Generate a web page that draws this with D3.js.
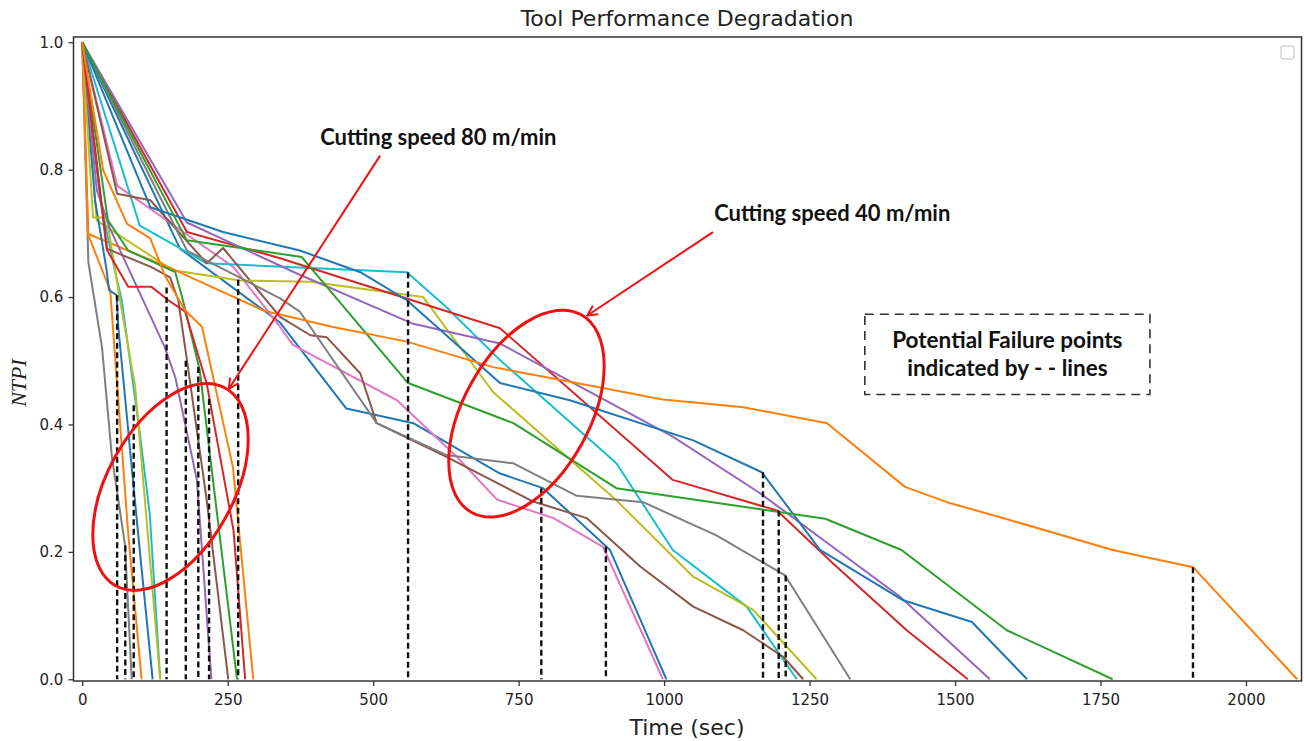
<!DOCTYPE html>
<html>
<head>
<meta charset="utf-8">
<script src="https://cdn.jsdelivr.net/npm/d3@7/dist/d3.min.js"></script>
<style>
  body { margin: 0; background: #fff; }
  svg { display: block; }
</style>
</head>
<body>
<svg id="chart" width="1304" height="741"></svg>
<script>
// ---- NTPI curves, each point is [time (s), NTPI] ----
// cutting speed 80 m/min
const s80Gray   = [[0,1],[10.5,0.655],[34,0.521],[51,0.349],[73.5,0.211],[85,0]];
const s80Orange = [[0,1],[10,0.698],[48,0.611],[79,0.229],[102,0]];
const s80Blue   = [[0,1],[22,0.752],[42,0.642],[46,0.611],[59,0.603],[62,0.553],[96,0.229],[121,0]];
const s80Cyan   = [[0,1],[31,0.752],[56,0.642],[68,0.595],[99,0.386],[116,0.260],[134,0]];
const s80Olive  = [[0,1],[18.6,0.725],[42,0.725],[65,0.595],[91,0.459],[134,0]];
const s80Purple = [[0,1],[25,0.768],[48,0.707],[142,0.521],[160,0.474],[197,0.313],[222,0]];
const s80Brown  = [[0,1],[42,0.676],[119,0.647],[151,0.631],[165,0.595],[180,0.501],[214,0.281],[251,0]];
const s80Green  = [[0,1],[44,0.721],[79,0.673],[160,0.639],[173,0.595],[202,0.485],[266,0]];
const s80Red    = [[0,1],[43,0.673],[79,0.616],[119,0.616],[148,0.595],[177,0.577],[214,0.464],[260,0.234],[280,0]];
const s80Orange2= [[0,1],[36,0.799],[77,0.715],[117,0.692],[142,0.634],[177,0.579],[206,0.553],[259,0.333],[294,0]];

// cutting speed 40 m/min
const s40Blue   = [[0,1],[168,0.676],[340,0.560],[454,0.425],[569,0.402],[718,0.323],[792,0.300],[907,0.203],[1004,0]];
const s40Pink   = [[0,1],[60,0.775],[260,0.647],[340,0.553],[362,0.525],[541,0.438],[644,0.349],[713,0.282],[810,0.253],[895,0.208],[998,0]];
const s40Cyan   = [[0,1],[99,0.712],[214,0.653],[558,0.639],[626,0.584],[718,0.501],[918,0.339],[1015,0.203],[1142,0.114],[1228,0]];
const s40Brown  = [[0,1],[60,0.762],[117,0.752],[214,0.653],[242,0.677],[340,0.569],[392,0.540],[420,0.537],[478,0.480],[506,0.402],[626,0.349],[775,0.279],[867,0.253],[959,0.177],[1050,0.114],[1136,0.077],[1205,0.035],[1239,0]];
const s40Olive  = [[0,1],[25,0.72],[156,0.642],[271,0.626],[392,0.624],[586,0.600],[706,0.451],[918,0.281],[1050,0.161],[1153,0.109],[1262,0]];
const s40Gray   = [[0,1],[180,0.673],[340,0.598],[374,0.577],[506,0.402],[626,0.352],[741,0.339],[850,0.288],[964,0.278],[1090,0.226],[1208,0.163],[1320,0]];
const s40Red    = [[0,1],[180,0.702],[340,0.661],[718,0.551],[1015,0.313],[1194,0.265],[1290,0.182],[1417,0.077],[1522,0]];
const s40Purple = [[0,1],[180,0.717],[369,0.637],[569,0.558],[718,0.527],[1015,0.381],[1165,0.292],[1405,0.130],[1560,0]];
const s40Blue2  = [[0,1],[117,0.741],[242,0.702],[374,0.673],[478,0.639],[558,0.595],[718,0.465],[838,0.438],[1050,0.375],[1168,0.325],[1268,0.203],[1411,0.124],[1529,0.090],[1624,0]];
const s40Green  = [[0,1],[180,0.689],[377,0.663],[560,0.465],[741,0.402],[918,0.300],[1277,0.252],[1408,0.203],[1589,0.077],[1771,0]];
const s40Orange = [[0,1],[10.5,0.699],[160,0.642],[311,0.579],[431,0.553],[558,0.530],[706,0.490],[942,0.449],[998,0.439],[1136,0.427],[1280,0.402],[1414,0.302],[1486,0.278],[1594,0.250],[1771,0.203],[1909,0.176],[2088,0]];

// potential failure points [time (s), NTPI], marked with dashed drop lines
const failurePoints = [[60,0.603],[74,0.21],[88.5,0.43],[145,0.615],[178,0.50],[199.5,0.49],[218,0.44],[268,0.627],
                       [560,0.639],[789,0.300],[900,0.208],[1170,0.325],[1197,0.265],[1209,0.163],[1909,0.176]];

// axis ticks
const xTicks = [0,250,500,750,1000,1250,1500,1750,2000];
const yTicks = [0.0,0.2,0.4,0.6,0.8,1.0];

// series in drawing order with tab10 colours
const tab = {blue:"#1f77b4",orange:"#ff7f0e",green:"#2ca02c",red:"#d62728",purple:"#9467bd",
             brown:"#8c564b",pink:"#e377c2",gray:"#7f7f7f",olive:"#bcbd22",cyan:"#17becf"};
const series = [
  {pts:s40Blue,c:tab.blue},{pts:s40Pink,c:tab.pink},{pts:s40Cyan,c:tab.cyan},{pts:s40Brown,c:tab.brown},
  {pts:s40Olive,c:tab.olive},{pts:s40Gray,c:tab.gray},{pts:s40Red,c:tab.red},{pts:s40Purple,c:tab.purple},
  {pts:s40Blue2,c:tab.blue},{pts:s40Green,c:tab.green},{pts:s40Orange,c:tab.orange},
  {pts:s80Gray,c:tab.gray},{pts:s80Orange,c:tab.orange},{pts:s80Blue,c:tab.blue},{pts:s80Cyan,c:tab.cyan},
  {pts:s80Olive,c:tab.olive},{pts:s80Purple,c:tab.purple},{pts:s80Brown,c:tab.brown},{pts:s80Green,c:tab.green},
  {pts:s80Red,c:tab.red},{pts:s80Orange2,c:tab.orange}
];

// ---- layout ----
const svg = d3.select("#chart");
const plot = {left:73.5, right:1301.5, top:37, bottom:681};
const x = d3.scaleLinear().domain([-15, 2095.5]).range([plot.left, plot.right]);
const y = d3.scaleLinear().domain([-0.0027, 1.0082]).range([plot.bottom, plot.top]);

const clipId = "plotClip";
svg.append("defs").append("clipPath").attr("id", clipId)
  .append("rect").attr("x", plot.left).attr("y", plot.top)
  .attr("width", plot.right - plot.left).attr("height", plot.bottom - plot.top);

const g = svg.append("g").attr("clip-path", `url(#${clipId})`);

const line = d3.line().x(d => x(d[0])).y(d => y(d[1]));
g.selectAll("path.series").data(series).enter().append("path")
  .attr("class", "series")
  .attr("d", d => line(d.pts))
  .attr("fill", "none")
  .attr("stroke", d => d.c)
  .attr("stroke-width", 2)
  .attr("stroke-linejoin", "round");

// dashed failure drop lines
g.selectAll("line.fail").data(failurePoints).enter().append("line")
  .attr("class", "fail")
  .attr("x1", d => x(d[0])).attr("x2", d => x(d[0]))
  .attr("y1", d => y(d[1])).attr("y2", y(0))
  .attr("stroke", "#111").attr("stroke-width", 2.4)
  .attr("stroke-dasharray", "6,3.5");

// ---- axes ----
const font = "'DejaVu Sans', sans-serif";
const xAxis = svg.append("g").attr("transform", `translate(0,${plot.bottom})`)
  .call(d3.axisBottom(x).tickValues(xTicks).tickFormat(d3.format("d")).tickSizeOuter(0).tickSize(5));
const yAxis = svg.append("g").attr("transform", `translate(${plot.left},0)`)
  .call(d3.axisLeft(y).tickValues(yTicks).tickFormat(d3.format(".1f")).tickSizeOuter(0).tickSize(5));
[xAxis, yAxis].forEach(a => {
  a.select(".domain").remove();
  a.selectAll("line").attr("stroke", "#333").attr("stroke-width", 1.3);
  a.selectAll("text").attr("font-family", font).attr("font-size", 15).attr("fill", "#222");
});
xAxis.selectAll("text").attr("dy", "1.05em");
yAxis.selectAll("text").attr("dx", "-0.15em");

svg.append("rect")
  .attr("x", plot.left).attr("y", plot.top)
  .attr("width", plot.right - plot.left).attr("height", plot.bottom - plot.top)
  .attr("fill", "none").attr("stroke", "#333").attr("stroke-width", 1.5);

// empty legend frame
svg.append("rect").attr("x", 1281).attr("y", 46).attr("width", 13).attr("height", 13)
  .attr("rx", 2.5).attr("fill", "#fff").attr("stroke", "#d4d4d4").attr("stroke-width", 1.4);

// titles
svg.append("text").attr("x", 687).attr("y", 26)
  .attr("text-anchor", "middle").attr("font-family", font).attr("font-size", 22)
  .attr("fill", "#222").text("Tool Performance Degradation");
svg.append("text").attr("x", 687).attr("y", 735)
  .attr("text-anchor", "middle").attr("font-family", font).attr("font-size", 22)
  .attr("fill", "#222").text("Time (sec)");
svg.append("text").attr("transform", `translate(26,383) rotate(-90)`)
  .attr("text-anchor", "middle").attr("font-family", "'Liberation Serif', 'DejaVu Serif', serif")
  .attr("font-style", "italic").attr("font-size", 22).attr("fill", "#222").text("NTPI");

// ---- annotations ----
const red = "#f01010";
const defs = svg.select("defs");
defs.append("marker").attr("id", "openArrow").attr("viewBox", "0 0 12 12")
  .attr("refX", 11).attr("refY", 6).attr("markerWidth", 12).attr("markerHeight", 12)
  .attr("markerUnits", "userSpaceOnUse").attr("orient", "auto")
  .append("path").attr("d", "M1,1 L11,6 L1,11").attr("fill", "none")
  .attr("stroke", red).attr("stroke-width", 2);

const ann = svg.append("g");
const groups = [
  {label:"Cutting speed 80 m/min", text:[612,0.848], from:[512,0.822], to:[252,0.456], ell:[151.7,0.302]},
  {label:"Cutting speed 40 m/min", text:[1289,0.728], from:[1084,0.702], to:[868,0.571], ell:[763.5,0.417]}
];
groups.forEach(gp => {
  ann.append("ellipse")
    .attr("cx", 0).attr("cy", 0).attr("rx", 113).attr("ry", 63)
    .attr("transform", `translate(${x(gp.ell[0])},${y(gp.ell[1])}) rotate(-61)`)
    .attr("fill", "none").attr("stroke", red).attr("stroke-width", 3);
  ann.append("line")
    .attr("x1", x(gp.from[0])).attr("y1", y(gp.from[1]))
    .attr("x2", x(gp.to[0])).attr("y2", y(gp.to[1]))
    .attr("stroke", red).attr("stroke-width", 2).attr("marker-end", "url(#openArrow)");
  ann.append("text").attr("x", x(gp.text[0])).attr("y", y(gp.text[1]))
    .attr("text-anchor", "middle").attr("dominant-baseline", "middle")
    .attr("font-family", "Lato, 'Open Sans', sans-serif").attr("font-weight", 700)
    .attr("font-size", 22).attr("fill", "#111").text(gp.label);
});

// note box
const box = {t0:1345, t1:1835, v0:0.573, v1:0.447};
ann.append("rect")
  .attr("x", x(box.t0)).attr("y", y(box.v0))
  .attr("width", x(box.t1) - x(box.t0)).attr("height", y(box.v1) - y(box.v0))
  .attr("fill", "none").attr("stroke", "#333").attr("stroke-width", 1.6)
  .attr("stroke-dasharray", "9,6");
const boxText = ann.append("text").attr("text-anchor", "middle")
  .attr("font-family", "Lato, 'Open Sans', sans-serif").attr("font-weight", 700)
  .attr("font-size", 22.5).attr("fill", "#111");
boxText.append("tspan").attr("x", x((box.t0 + box.t1) / 2)).attr("y", y(0.520)).text("Potential Failure points");
boxText.append("tspan").attr("x", x((box.t0 + box.t1) / 2)).attr("y", y(0.476)).text("indicated by - - lines");
</script>
</body>
</html>
